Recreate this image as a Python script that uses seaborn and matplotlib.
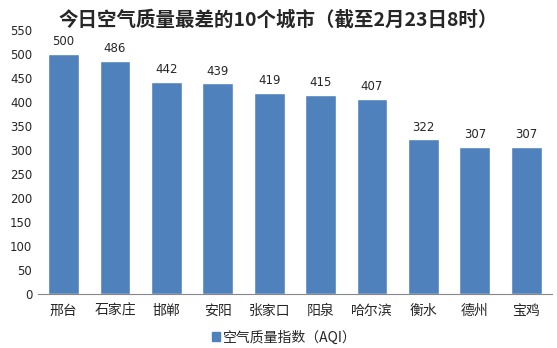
import matplotlib
matplotlib.use("Agg")
import matplotlib.pyplot as plt
import seaborn as sns
import pandas as pd
from matplotlib.patches import Patch

cities = ["邢台", "石家庄", "邯郸", "安阳", "张家口", "阳泉", "哈尔滨", "衡水", "德州", "宝鸡"]
aqi = [500, 486, 442, 439, 419, 415, 407, 322, 307, 307]
yticks = list(range(0, 551, 50))
title = "今日空气质量最差的10个城市（截至2月23日8时）"
legend_label = "空气质量指数（AQI）"

sns.set_theme(style="white")
plt.rcParams['font.family'] = ['Noto Sans CJK SC', 'DejaVu Sans']

df = pd.DataFrame({"city": cities, "aqi": aqi})
fig = plt.figure(figsize=(5.57, 3.48), dpi=100)
ax = fig.add_axes([0.068, 0.155, 0.923, 0.759])
color = "#4F81BD"
sns.barplot(data=df, x="city", y="aqi", color=color, width=0.6, saturation=1, ax=ax)
ax.set_ylim(0, 550)
ax.set_xlim(-0.5, len(cities) - 0.5)
ax.set_yticks(yticks)
ax.set_yticklabels([str(t) for t in yticks], fontsize=8.5, family=['DejaVu Sans'])
ax.tick_params(axis='x', labelsize=10, length=0, pad=7)
ax.tick_params(axis='y', length=0, pad=4)
ax.set_xlabel("")
ax.set_ylabel("")
for s in ["top", "right", "left"]:
    ax.spines[s].set_visible(False)
ax.spines["bottom"].set_color("#888888")
ax.spines["bottom"].set_linewidth(0.8)
for c in ax.containers:
    ax.bar_label(c, labels=[str(v) for v in aqi], padding=4, fontsize=8.5, family=['DejaVu Sans'])
fig.suptitle(title, fontsize=14, fontweight='bold', x=0.5, y=0.97)
handle = Patch(facecolor=color, edgecolor=color)
fig.legend(handles=[handle], labels=[legend_label], loc='center', bbox_to_anchor=(0.51, 0.03),
           frameon=False, fontsize=10, handlelength=0.6, handleheight=0.6, handletextpad=0.2)
fig.savefig("out.png", dpi=100)
